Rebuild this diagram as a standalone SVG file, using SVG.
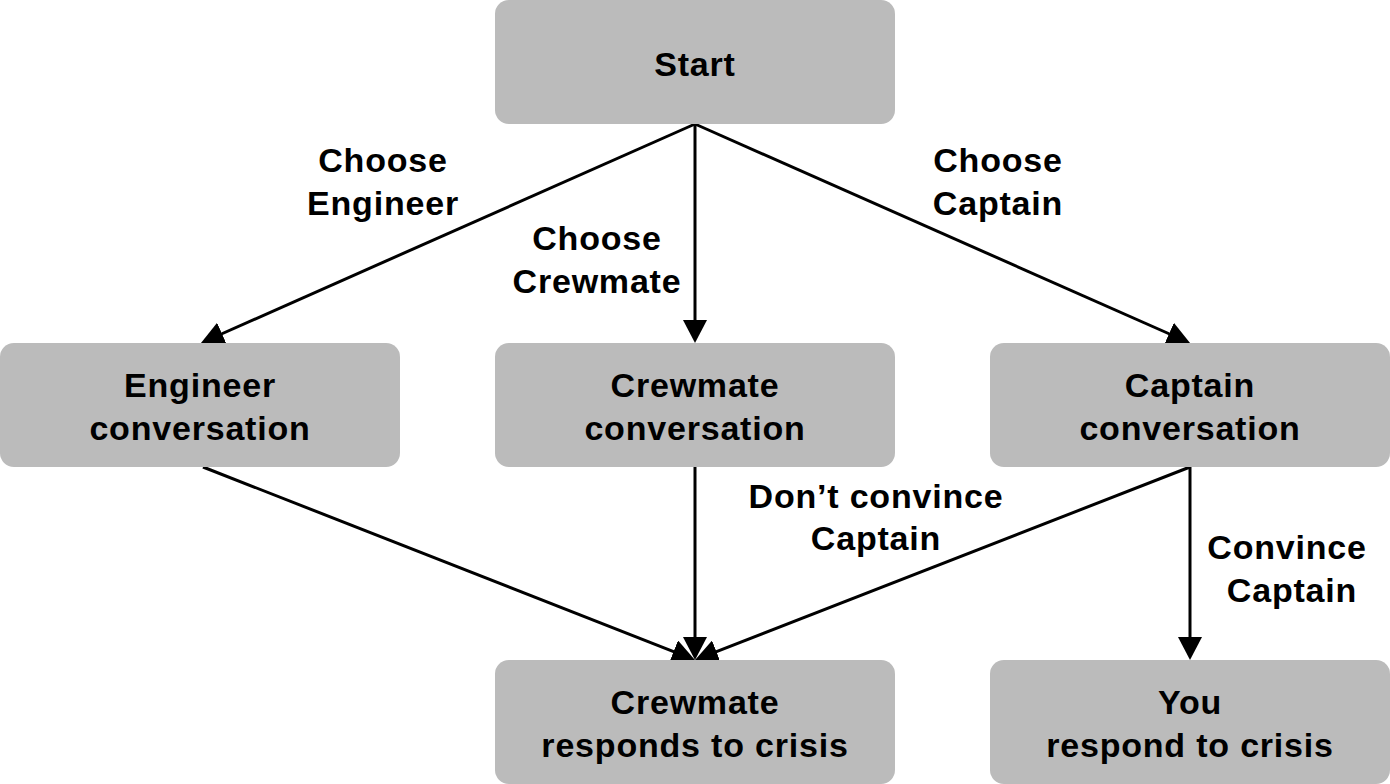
<svg xmlns="http://www.w3.org/2000/svg" width="1390" height="784" viewBox="0 0 1390 784">
<defs>
<style>
.box{fill:#bbbbbb;}
.t{font-family:"Liberation Sans",Arial,Helvetica,sans-serif;font-weight:bold;font-size:34px;letter-spacing:0.8px;fill:#000;text-anchor:middle;}
.e{stroke:#000;stroke-width:3;fill:none;marker-end:url(#ah);}
</style>
<marker id="ah" markerUnits="userSpaceOnUse" markerWidth="24" markerHeight="24" refX="13" refY="12" orient="auto" viewBox="0 0 24 24">
<path d="M0,0 L23,12 L0,24 z" fill="#000"/>
</marker>
</defs>
<rect width="1390" height="784" fill="#fff"/>
<g id="connectors">
<line class="e" x1="695" y1="124" x2="210.1" y2="339"/>
<line class="e" x1="695" y1="124" x2="695" y2="333"/>
<line class="e" x1="695" y1="124" x2="1180.9" y2="339"/>
<line class="e" x1="203" y1="467" x2="685.7" y2="656.3"/>
<line class="e" x1="695" y1="467" x2="695" y2="650"/>
<line class="e" x1="1190" y1="467" x2="704.3" y2="656.4"/>
<line class="e" x1="1190" y1="467" x2="1190" y2="650"/>
</g>
<g id="edge-labels">
<text class="t" x="383" y="172">Choose</text>
<text class="t" x="383" y="215">Engineer</text>
<text class="t" x="597" y="250">Choose</text>
<text class="t" x="597" y="293">Crewmate</text>
<text class="t" x="998" y="172">Choose</text>
<text class="t" x="998" y="215">Captain</text>
<text class="t" x="876" y="508">Don’t convince</text>
<text class="t" x="876" y="550">Captain</text>
<text class="t" x="1287" y="559">Convince</text>
<text class="t" x="1292" y="602">Captain</text>
</g>
<g id="start"><rect class="box" x="495" y="0" width="400" height="124" rx="14"/><text class="t" x="695" y="76">Start</text></g>
<g id="engineer"><rect class="box" x="0" y="343" width="400" height="124" rx="14"/><text class="t" x="200" y="397">Engineer</text><text class="t" x="200" y="440">conversation</text></g>
<g id="crewmate"><rect class="box" x="495" y="343" width="400" height="124" rx="14"/><text class="t" x="695" y="397">Crewmate</text><text class="t" x="695" y="440">conversation</text></g>
<g id="captain"><rect class="box" x="990" y="343" width="400" height="124" rx="14"/><text class="t" x="1190" y="397">Captain</text><text class="t" x="1190" y="440">conversation</text></g>
<g id="crewmate-crisis"><rect class="box" x="495" y="660" width="400" height="124" rx="14"/><text class="t" x="695" y="714">Crewmate</text><text class="t" x="695" y="757">responds to crisis</text></g>
<g id="you-crisis"><rect class="box" x="990" y="660" width="400" height="124" rx="14"/><text class="t" x="1190" y="714">You</text><text class="t" x="1190" y="757">respond to crisis</text></g>
</svg>
